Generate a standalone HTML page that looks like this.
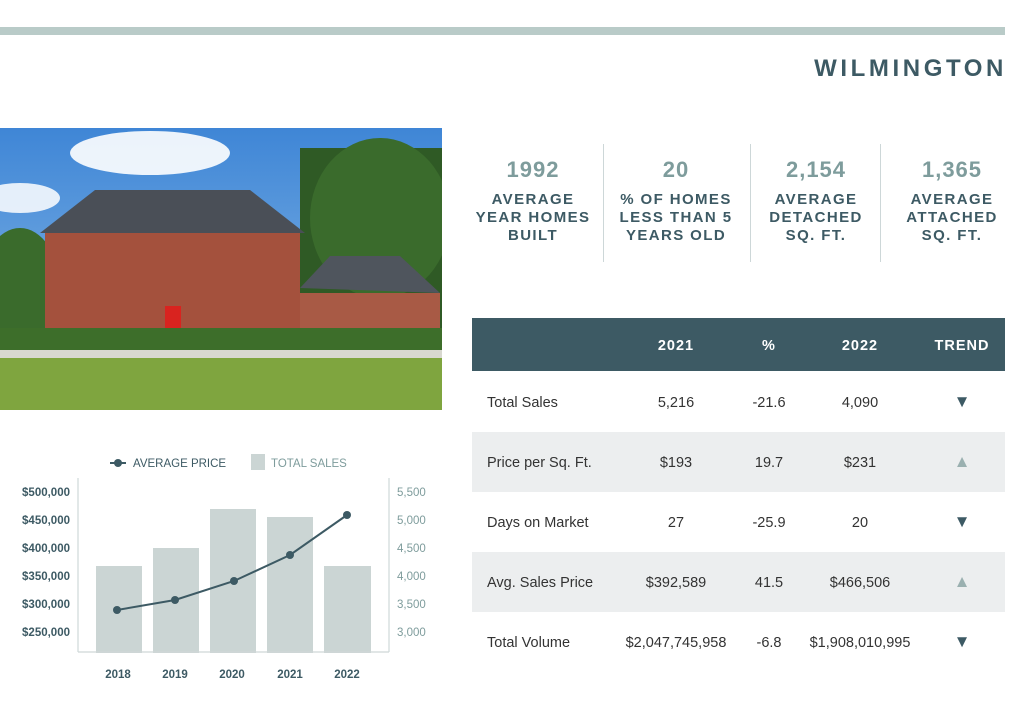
<!DOCTYPE html>
<html><head><style>
body{margin:0;width:1032px;height:720px;background:#fff;position:relative;overflow:hidden;font-family:"Liberation Sans",sans-serif;}
.a{position:absolute;}
.num{position:absolute;width:140px;text-align:center;font-weight:bold;font-size:22px;color:#7e9c9c;letter-spacing:1px;top:157px;}
.lab{position:absolute;width:150px;text-align:center;font-weight:bold;font-size:15px;line-height:18px;color:#3d5a64;letter-spacing:1.4px;top:191px;}
.vd{position:absolute;top:144px;width:1px;height:118px;background:#cdd7d8;}
.row{position:absolute;left:472px;width:533px;height:60px;font-size:14.5px;color:#333;}
.row span{position:absolute;top:23px;}
.c{width:140px;text-align:center;margin-left:-70px;}
.t{font-size:17px;top:20px !important;}
</style></head><body>
<div class="a" style="left:0;top:27px;width:1005px;height:8px;background:#b9cbc8"></div>
<div class="a" style="right:25px;top:55px;font-size:24px;font-weight:bold;letter-spacing:3.6px;color:#3d5a64">WILMINGTON</div>

<svg class="a" style="left:0;top:128px" width="442" height="282">
<defs><linearGradient id="sk" x1="0" y1="0" x2="0" y2="1"><stop offset="0" stop-color="#3f86d6"/><stop offset="1" stop-color="#8fbde8"/></linearGradient></defs>
<rect width="442" height="282" fill="url(#sk)"/>
<ellipse cx="150" cy="25" rx="80" ry="22" fill="#fff" opacity=".9"/>
<ellipse cx="20" cy="70" rx="40" ry="15" fill="#fff" opacity=".85"/>
<ellipse cx="330" cy="40" rx="25" ry="15" fill="#fff" opacity=".8"/>
<rect x="300" y="20" width="142" height="200" fill="#2f5a25"/>
<ellipse cx="380" cy="90" rx="70" ry="80" fill="#3a6b2c"/>
<ellipse cx="20" cy="160" rx="40" ry="60" fill="#3a6b2c"/>
<polygon points="40,105 95,62 250,62 305,105" fill="#4a4f57"/>
<rect x="45" y="105" width="255" height="110" fill="#a4513d"/>
<polygon points="300,160 330,128 400,128 440,165" fill="#4f555d"/>
<rect x="300" y="165" width="140" height="50" fill="#a85a45"/>
<rect x="165" y="178" width="16" height="30" fill="#d9231f"/>
<rect x="0" y="200" width="442" height="25" fill="#3d6e2a"/>
<rect x="0" y="222" width="442" height="8" fill="#d8d8d0"/>
<rect x="0" y="230" width="442" height="52" fill="#7fa53f"/>
</svg>

<div class="num" style="left:463px">1992</div>
<div class="num" style="left:606px">20</div>
<div class="num" style="left:746px">2,154</div>
<div class="num" style="left:882px">1,365</div>
<div class="lab" style="left:458px">AVERAGE<br>YEAR HOMES<br>BUILT</div>
<div class="lab" style="left:601px">% OF HOMES<br>LESS THAN 5<br>YEARS OLD</div>
<div class="lab" style="left:741px">AVERAGE<br>DETACHED<br>SQ. FT.</div>
<div class="lab" style="left:877px">AVERAGE<br>ATTACHED<br>SQ. FT.</div>
<div class="vd" style="left:603px"></div><div class="vd" style="left:750px"></div><div class="vd" style="left:880px"></div>

<div class="a" style="left:472px;top:318px;width:533px;height:53px;background:#3d5a64;color:#fff;font-weight:bold;font-size:14.5px;letter-spacing:1px">
<span class="a c" style="left:204px;top:20px">2021</span><span class="a c" style="left:297px;top:20px">%</span><span class="a c" style="left:388px;top:20px">2022</span><span class="a c" style="left:490px;top:20px">TREND</span></div>

<div class="row" style="top:372px"><span style="left:15px">Total Sales</span><span class="c" style="left:204px">5,216</span><span class="c" style="left:297px">-21.6</span><span class="c" style="left:388px">4,090</span><span class="c t" style="left:490px;color:#3d5a64">▼</span></div>
<div class="row" style="top:432px;background:#eceeef"><span style="left:15px">Price per Sq. Ft.</span><span class="c" style="left:204px">$193</span><span class="c" style="left:297px">19.7</span><span class="c" style="left:388px">$231</span><span class="c t" style="left:490px;color:#9ab0b0">▲</span></div>
<div class="row" style="top:492px"><span style="left:15px">Days on Market</span><span class="c" style="left:204px">27</span><span class="c" style="left:297px">-25.9</span><span class="c" style="left:388px">20</span><span class="c t" style="left:490px;color:#3d5a64">▼</span></div>
<div class="row" style="top:552px;background:#eceeef"><span style="left:15px">Avg. Sales Price</span><span class="c" style="left:204px">$392,589</span><span class="c" style="left:297px">41.5</span><span class="c" style="left:388px">$466,506</span><span class="c t" style="left:490px;color:#9ab0b0">▲</span></div>
<div class="row" style="top:612px"><span style="left:15px">Total Volume</span><span class="c" style="left:204px">$2,047,745,958</span><span class="c" style="left:297px">-6.8</span><span class="c" style="left:388px">$1,908,010,995</span><span class="c t" style="left:490px;color:#3d5a64">▼</span></div>

<svg class="a" style="left:0;top:440px" width="450" height="250" font-family="Liberation Sans" font-size="11.5" font-weight="bold">
<line x1="110" y1="23" x2="126" y2="23" stroke="#3d5a64" stroke-width="2"/><circle cx="118" cy="23" r="4" fill="#3d5a64"/>
<text x="133" y="27" fill="#3d5a64" font-weight="normal">AVERAGE PRICE</text>
<rect x="251" y="14" width="14" height="16" fill="#cbd5d4"/>
<text x="271" y="27" fill="#7e9c9c" font-weight="normal">TOTAL SALES</text>
<g fill="#cbd5d4"><rect x="96" y="126" width="46" height="87"/><rect x="153" y="108" width="46" height="105"/><rect x="210" y="69" width="46" height="144"/><rect x="267" y="77" width="46" height="136"/><rect x="324" y="126" width="47" height="87"/></g>
<g stroke="#cfd8d8" stroke-width="1.2"><line x1="78" y1="38" x2="78" y2="212"/><line x1="389" y1="38" x2="389" y2="212"/><line x1="78" y1="212" x2="389" y2="212"/></g>
<polyline points="117,170 175,160 234,141 290,115 347,75" fill="none" stroke="#3d5a64" stroke-width="2"/>
<g fill="#3d5a64"><circle cx="117" cy="170" r="4"/><circle cx="175" cy="160" r="4"/><circle cx="234" cy="141" r="4"/><circle cx="290" cy="115" r="4"/><circle cx="347" cy="75" r="4"/></g>
<g fill="#3d5a64" text-anchor="end"><text x="70" y="56">$500,000</text><text x="70" y="84">$450,000</text><text x="70" y="112">$400,000</text><text x="70" y="140">$350,000</text><text x="70" y="168">$300,000</text><text x="70" y="196">$250,000</text></g>
<g fill="#7e9c9c" font-weight="normal"><text x="397" y="56">5,500</text><text x="397" y="84">5,000</text><text x="397" y="112">4,500</text><text x="397" y="140">4,000</text><text x="397" y="168">3,500</text><text x="397" y="196">3,000</text></g>
<g fill="#3d5a64" text-anchor="middle"><text x="118" y="238">2018</text><text x="175" y="238">2019</text><text x="232" y="238">2020</text><text x="290" y="238">2021</text><text x="347" y="238">2022</text></g>
</svg>
</body></html>
